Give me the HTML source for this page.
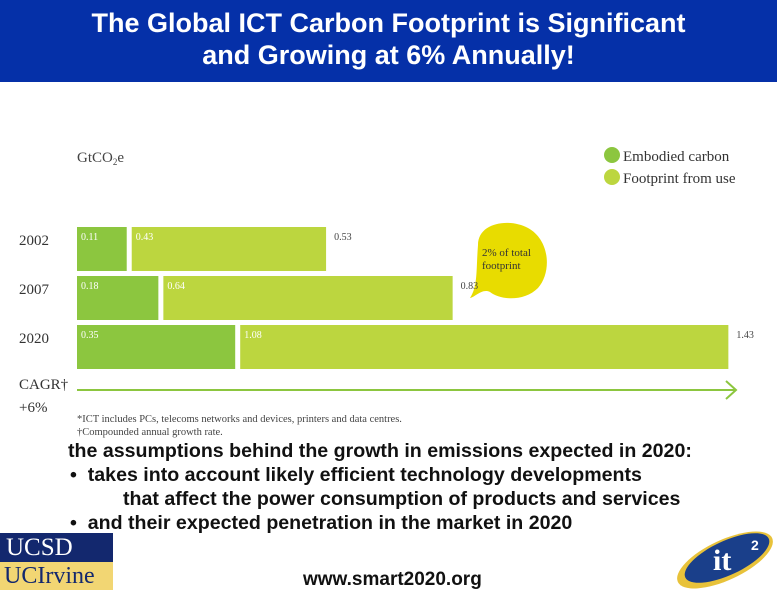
<!DOCTYPE html>
<html><head><meta charset="utf-8"><style>
body{margin:0;width:778px;height:590px;background:#fff;overflow:hidden;position:relative;font-family:"Liberation Sans",sans-serif}
#title{position:absolute;left:0;top:0;width:777px;height:82px;background:#0530a8;color:#fff;font-weight:bold;font-size:27px;text-align:center;line-height:32px;padding-top:7px;box-sizing:border-box}
.ser{font-family:"Liberation Serif",serif}
.body{position:absolute;left:68px;font-weight:bold;font-size:19.6px;color:#111;white-space:nowrap}
</style></head><body>
<div id="title">The Global ICT Carbon Footprint is Significant<br>and Growing at 6% Annually!</div>
<svg id="chart" width="778" height="440" style="position:absolute;left:0;top:0">
<text class="ser" x="77" y="162" font-size="15" fill="#444">GtCO<tspan font-size="9" dy="3">2</tspan><tspan dy="-3">e</tspan></text>
<g>
<circle cx="612" cy="155" r="8" fill="#8cc63f"/>
<text class="ser" x="623" y="161" font-size="15" fill="#333">Embodied carbon</text>
<circle cx="612" cy="177" r="8" fill="#bcd63f"/>
<text class="ser" x="623" y="183" font-size="15" fill="#333">Footprint from use</text>
</g>
<path d="M478,245 C478,222 510,218 528,228 C550,240 552,272 538,288 C524,302 500,300 490,292 C482,288 474,298 470,298 C478,286 476,270 478,245Z" fill="#e8dc00"/>
<text class="ser" x="482" y="256" font-size="11" fill="#333"><tspan x="482">2% of total</tspan><tspan x="482" dy="13">footprint</tspan></text>
<g id="bars"></g>
<line x1="77" y1="390" x2="736" y2="390" stroke="#8cc63f" stroke-width="2"/>
<polyline points="726,381 736,390 726,399" fill="none" stroke="#8cc63f" stroke-width="2"/>
<text class="ser" x="19" y="389" font-size="15" fill="#333">CAGR†</text>
<text class="ser" x="19" y="412" font-size="15" fill="#333">+6%</text>
<text class="ser" x="77" y="422" font-size="10.5" fill="#444">*ICT includes PCs, telecoms networks and devices, printers and data centres.</text>
<text class="ser" x="77" y="435" font-size="10.5" fill="#444">†Compounded annual growth rate.</text>
</svg>
<div class="body" style="top:440px">the assumptions behind the growth in emissions expected in 2020:</div>
<div class="body" style="top:464px;left:70px">•&nbsp; takes into account likely efficient technology developments</div>
<div class="body" style="top:488px;left:123px">that affect the power consumption of products and services</div>
<div class="body" style="top:512px;left:70px">•&nbsp; and their expected penetration in the market in 2020</div>
<div style="position:absolute;left:0;top:533px;width:113px;height:29px;background:#13286e;color:#fff;font-family:'Liberation Serif',serif;font-size:25px;line-height:29px;padding-left:6px;box-sizing:border-box">UCSD</div>
<div style="position:absolute;left:0;top:562px;width:113px;height:28px;background:#f2d673;color:#13286e;font-family:'Liberation Serif',serif;font-size:24px;line-height:28px;padding-left:4px;box-sizing:border-box">UCIrvine</div>
<div class="body" style="top:569px;left:303px;font-size:19px">www.smart2020.org</div>
<svg width="115" height="70" style="position:absolute;left:665px;top:520px">
<ellipse cx="60" cy="40" rx="52" ry="20" transform="rotate(-25 60 40)" fill="#e8c23a"/>
<ellipse cx="62" cy="38" rx="46" ry="17" transform="rotate(-25 62 38)" fill="#1a3f8a"/>
<text x="48" y="50" font-size="30" font-weight="bold" fill="#fff" font-family="Liberation Serif,serif">it</text>
<text x="86" y="30" font-size="14" font-weight="bold" fill="#fff">2</text>
</svg>
<script>
const years=["2002","2007","2020"];
const embodied=[0.11,0.18,0.35];
const fromUse=[0.43,0.64,1.08];
const totals=[0.53,0.83,1.43];
const ns="http://www.w3.org/2000/svg";
const x0=77, scale=452, gap=5, rowTop=227, rowH=44, rowStep=49;
function xw(v){return v*scale;}
function rowY(i){return rowTop+i*rowStep;}
const g=document.getElementById('bars');
function mk(tag,attrs){const e=document.createElementNS(ns,tag);for(const k in attrs)e.setAttribute(k,attrs[k]);g.appendChild(e);return e;}
years.forEach((yr,i)=>{
  const y=rowY(i);
  const t=mk('text',{x:19,y:y+18,'font-size':15,fill:'#333','font-family':'Liberation Serif,serif'});
  t.textContent=yr;
  
  
  const we=xw(embodied[i]);
  const r1=mk('rect',{x:x0,y:y,width:we,height:rowH,fill:'#8cc63f'});
  
  
  const l1=mk('text',{x:x0+4,y:y+13,'font-size':10,fill:'#fff','font-family':'Liberation Serif,serif'});
  l1.textContent=embodied[i].toFixed(2);
  
  
  const xu=x0+we+gap, wu=xw(fromUse[i]);
  const r2=mk('rect',{x:xu,y:y,width:wu,height:rowH,fill:'#bcd63f'});
  
  
  const l2=mk('text',{x:xu+4,y:y+13,'font-size':10,fill:'#fff','font-family':'Liberation Serif,serif'});
  l2.textContent=fromUse[i].toFixed(2);
  
  
  const l3=mk('text',{x:xu+wu+8,y:y+13,'font-size':10,fill:'#444','font-family':'Liberation Serif,serif'});
  l3.textContent=totals[i].toFixed(2);
  
  
});
</script>
</body></html>
